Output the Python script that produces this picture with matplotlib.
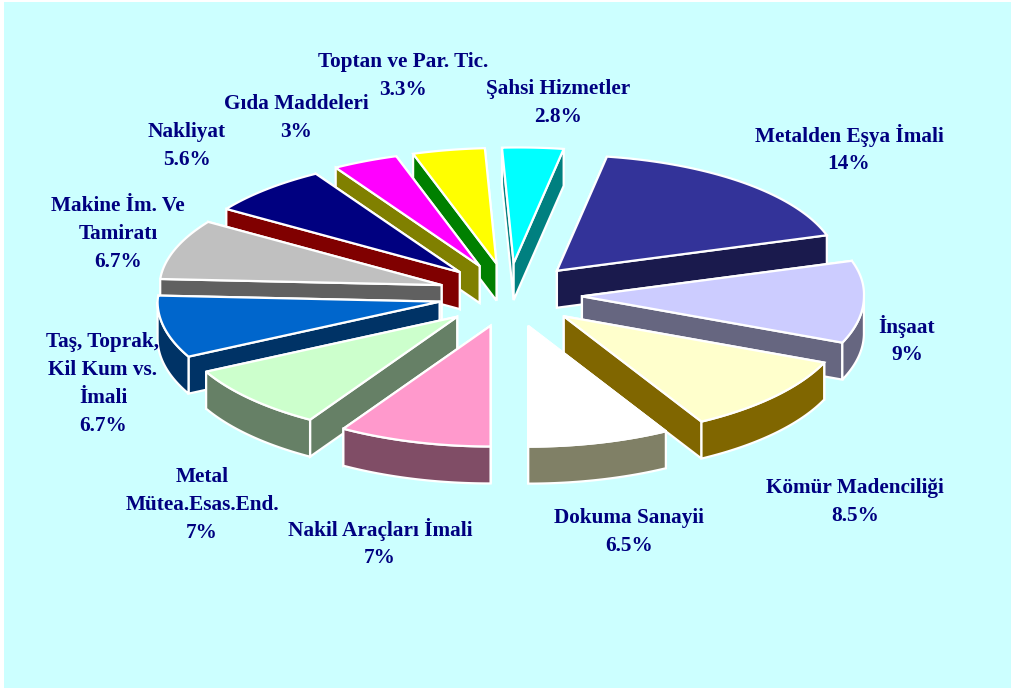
import numpy as np
import matplotlib
matplotlib.use("Agg")
import matplotlib.pyplot as plt
from matplotlib.patches import Polygon, Rectangle

W, H = 1012, 688

labels = ["Metalden Eşya İmali\n14%", "İnşaat\n9%", "Kömür Madenciliği\n8.5%",
          "Dokuma Sanayii\n6.5%", "Nakil Araçları İmali\n7%", "Metal\nMütea.Esas.End.\n7%",
          "Taş, Toprak,\nKil Kum vs.\nİmali\n6.7%", "Makine İm. Ve\nTamiratı\n6.7%",
          "Nakliyat\n5.6%", "Gıda Maddeleri\n3%", "Toptan ve Par. Tic.\n3.3%",
          "Şahsi Hizmetler\n2.8%"]
values = [14, 9, 8.5, 6.5, 7, 7, 6.7, 6.7, 5.6, 3, 3.3, 2.8]
top_colors = ["#333399", "#CCCCFF", "#FFFFCC", "#FFFFFF", "#FF99CC", "#CCFFCC",
              "#0066CC", "#C0C0C0", "#000080", "#FF00FF", "#FFFF00", "#00FFFF"]
wall_colors = ["#1A1A4D", "#666680", "#806600", "#808066", "#804D66", "#668066",
               "#003366", "#606060", "#800000", "#808000", "#008000", "#008080"]
label_xy = [(849, 149), (907, 340), (855, 502), (629, 532), (380, 543), (202, 505),
            (103, 384), (118, 234), (187, 146), (296, 118), (403, 76), (558, 103)]

CX, CY = 510, 295
RADIUS, DEPTH = 282, 37
SQUASH_BACK, SQUASH_FRONT = 0.41, 0.428
EXPLODE, EXPLODE_SQUASH = 72, 0.444
START = 9.2
BACK_SHIFT = 5  # far side of the disc leans right under the perspective

fig = plt.figure(figsize=(W / 100, H / 100), dpi=100, facecolor="#CCFFFF")
ax = fig.add_axes([0, 0, 1, 1])
ax.set_xlim(0, W)
ax.set_ylim(H, 0)
ax.axis("off")
# thin white margin along the left and top of the panel
ax.add_patch(Rectangle((0, 0), 4, H, facecolor="white", edgecolor="none"))
ax.add_patch(Rectangle((0, 0), W, 2, facecolor="white", edgecolor="none"))


def rim_point(deg):
    rad = np.radians(deg)
    c = np.cos(rad)
    squash = SQUASH_BACK if c > 0 else SQUASH_FRONT
    return np.array([np.sin(rad) * RADIUS + BACK_SHIFT * max(c, 0), -c * RADIUS * squash])


fractions = np.array(values) / np.sum(values) * 360
edges = START + np.concatenate(([0], np.cumsum(fractions)))
mids = (edges[:-1] + edges[1:]) / 2
order = np.argsort(-np.cos(np.radians(mids)))
style = dict(edgecolor="white", linewidth=1.6, joinstyle="miter")
down = np.array([0, DEPTH])

for i in order:
    a0, a1, mid = edges[i], edges[i + 1], mids[i]
    rad = np.radians(mid)
    tip = np.array([CX + np.sin(rad) * EXPLODE, CY - np.cos(rad) * EXPLODE * EXPLODE_SQUASH])
    angles = np.linspace(a0, a1, 60)
    rim = np.array([tip + rim_point(a) for a in angles])
    # back-facing radial wall goes first so the nearer one hides it
    for end in sorted((rim[0], rim[-1]), key=lambda p: p[1]):
        quad = [tip, end, end + down, tip + down]
        ax.add_patch(Polygon(quad, facecolor=wall_colors[i], **style))
    front = np.cos(np.radians(angles)) < 0
    if front.any():
        arc = rim[front]
        ax.add_patch(Polygon(np.vstack([arc, (arc + down)[::-1]]),
                             facecolor=wall_colors[i], **style))
    ax.add_patch(Polygon(np.vstack([tip, rim]), facecolor=top_colors[i], **style))

for text, (x, y) in zip(labels, label_xy):
    ax.text(x, y, text, ha="center", va="center", color="#000080",
            family="Liberation Serif", weight="bold", fontsize=15.3, linespacing=1.52)

fig.savefig("out.png", dpi=100, facecolor=fig.get_facecolor())
